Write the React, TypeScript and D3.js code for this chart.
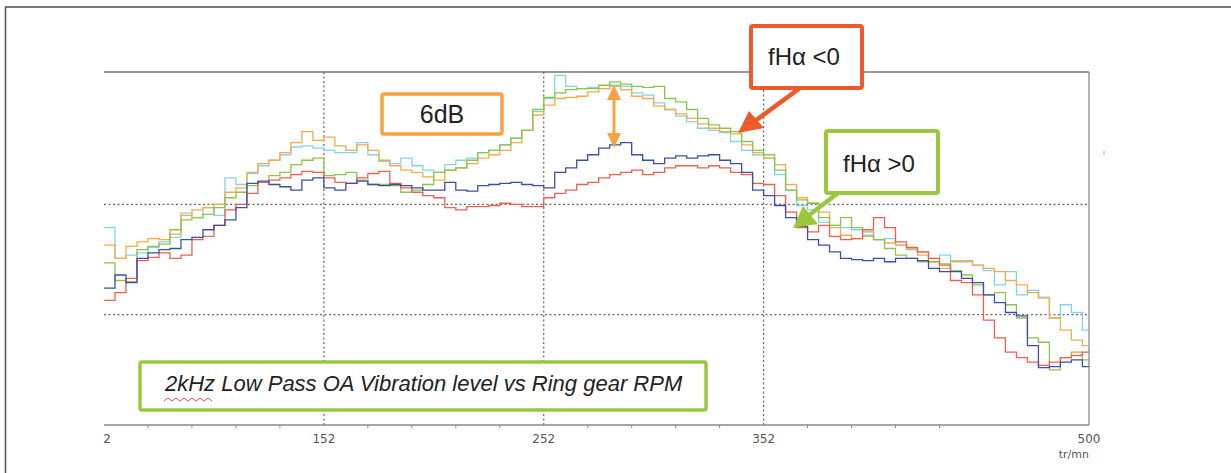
import React from 'react';
import * as d3 from 'd3';

// Sample positions (ring gear RPM), one value every 5 tr/mn
const rpmSamples = d3.range(52, 500, 5);
const rpmEnd = 500;

const xTickValues = [52, 152, 252, 352, 500];
const xTickLabels = ['2', '152', '252', '352', '500'];
const minorTickValues = [72, 92, 112, 132, 172, 192, 212, 232, 272, 292, 312, 332, 372, 392, 412, 432];
const gridXValues = [152, 252, 352];
const gridYValues = [80, 70];

// OA vibration level (dB)
const cyanLevels = [77.9, 75.1, 75.4, 75.6, 76.1, 76.6, 77.0, 79.2, 78.8, 79.7, 79.0, 82.4, 81.8, 82.8, 83.5, 84.0, 84.5, 85.2, 85.3, 85.1, 84.9, 84.7, 84.7, 85.6, 84.5, 83.9, 83.7, 84.2, 83.5, 83.1, 82.9, 83.6, 84.0, 84.2, 84.7, 84.9, 85.4, 86.0, 86.7, 88.4, 89.6, 91.7, 90.7, 90.5, 90.6, 90.5, 90.8, 90.7, 90.1, 89.9, 89.2, 88.6, 88.0, 87.5, 86.9, 86.7, 86.5, 85.7, 84.9, 84.5, 84.2, 82.7, 81.3, 79.9, 79.5, 78.4, 78.1, 77.9, 77.7, 77.2, 76.8, 76.9, 76.3, 76.0, 75.7, 75.1, 75.4, 74.9, 74.8, 74.5, 74.0, 72.7, 73.9, 71.8, 72.2, 71.6, 69.7, 70.9, 70.2, 68.6];
const orangeLevels = [76.3, 75.1, 76.2, 76.6, 76.9, 76.8, 77.3, 79.0, 79.5, 79.7, 80.0, 81.1, 81.5, 82.9, 83.7, 84.0, 84.7, 85.6, 86.6, 85.8, 86.1, 85.3, 84.9, 85.4, 84.9, 84.0, 83.5, 83.1, 82.9, 82.5, 82.2, 83.1, 83.3, 83.7, 84.2, 84.5, 84.9, 85.6, 86.7, 88.1, 89.0, 89.6, 89.7, 89.8, 90.2, 90.5, 90.7, 90.4, 89.8, 89.6, 88.9, 88.6, 88.2, 87.8, 87.3, 86.9, 86.6, 86.4, 85.4, 84.7, 84.2, 83.6, 81.8, 80.6, 80.1, 79.3, 77.9, 77.2, 76.9, 77.1, 76.8, 76.5, 76.3, 75.9, 75.4, 74.8, 74.2, 74.8, 74.9, 74.5, 74.2, 73.9, 73.1, 72.7, 72.0, 71.5, 69.7, 68.6, 67.7, 67.2];
const greenLevels = [74.7, 73.1, 73.0, 75.9, 76.2, 76.4, 77.7, 78.6, 78.8, 79.1, 79.7, 80.6, 81.1, 81.7, 82.0, 82.6, 82.9, 83.6, 84.0, 84.2, 82.6, 82.7, 82.9, 82.2, 81.8, 81.8, 81.7, 81.1, 81.3, 81.8, 82.9, 83.1, 83.3, 84.0, 84.7, 84.9, 85.4, 86.0, 86.7, 88.6, 89.7, 90.1, 90.4, 90.5, 90.5, 90.8, 91.1, 90.9, 90.7, 90.6, 90.7, 89.6, 89.3, 88.6, 87.8, 87.2, 86.9, 86.6, 85.7, 84.9, 84.5, 83.1, 81.3, 80.4, 80.1, 78.8, 78.1, 78.8, 77.9, 77.5, 76.8, 76.0, 75.4, 75.1, 74.8, 74.8, 74.6, 74.0, 73.6, 72.7, 71.8, 72.0, 70.9, 69.7, 67.9, 67.5, 65.0, 66.1, 66.6, 65.9];
const navyLevels = [72.4, 73.6, 72.9, 75.1, 75.6, 75.9, 76.0, 76.8, 77.0, 77.7, 78.1, 78.6, 79.7, 81.9, 82.1, 81.8, 81.6, 81.3, 82.2, 82.4, 81.5, 81.3, 81.9, 82.1, 81.8, 81.7, 81.8, 81.7, 81.5, 81.3, 81.3, 82.0, 81.3, 81.2, 81.7, 81.8, 81.9, 82.0, 81.8, 81.7, 81.5, 82.9, 83.3, 84.0, 84.5, 85.1, 85.4, 85.6, 84.5, 84.0, 83.7, 84.2, 84.4, 84.2, 84.4, 84.5, 84.0, 83.7, 82.9, 81.3, 80.8, 79.9, 78.8, 78.0, 76.8, 76.3, 75.7, 75.1, 75.0, 74.9, 75.1, 74.8, 75.1, 75.1, 74.9, 74.2, 73.9, 73.9, 73.3, 72.9, 71.8, 71.1, 70.2, 69.9, 67.2, 65.2, 65.3, 65.7, 65.9, 65.3];
const redLevels = [71.3, 72.0, 73.3, 74.9, 75.2, 75.6, 75.1, 75.4, 76.8, 77.1, 78.1, 79.5, 80.0, 81.0, 82.0, 82.2, 82.4, 82.7, 83.0, 82.9, 82.4, 82.0, 81.9, 82.4, 82.8, 83.0, 81.9, 81.5, 81.1, 80.8, 80.6, 79.7, 79.5, 79.8, 79.8, 79.9, 80.1, 80.0, 79.8, 79.8, 80.6, 81.0, 81.3, 81.8, 82.0, 82.4, 82.7, 82.9, 83.1, 82.7, 82.9, 83.3, 83.5, 83.5, 83.3, 83.5, 83.3, 82.9, 82.7, 81.9, 81.8, 80.8, 79.3, 77.9, 77.5, 78.1, 77.1, 76.8, 76.9, 77.7, 78.8, 77.9, 76.6, 76.1, 75.7, 75.1, 74.5, 73.1, 72.9, 71.8, 69.5, 67.9, 66.6, 66.1, 65.7, 65.4, 65.7, 66.1, 66.3, 66.6];

const seriesNames = ['cyan', 'orange', 'green', 'red', 'navy'];
const seriesLevels = [cyanLevels, orangeLevels, greenLevels, redLevels, navyLevels];
const seriesColors = ['#84d2ea', '#f7a94c', '#8dc44e', '#ee5f52', '#3d4fa2'];

const W = 1231;
const H = 473;
const plot = { left: 104, right: 1089, top: 72, bottom: 425 };

export default function App() {
  const x = d3.scaleLinear().domain([52, 500]).range([plot.left, plot.right]);
  const y = d3.scaleLinear().domain([60, 92]).range([plot.bottom, plot.top]);

  const line = d3
    .line<[number, number]>()
    .x((d) => x(d[0]))
    .y((d) => y(d[1]))
    .curve(d3.curveStepAfter);

  const paths = seriesLevels.map((vals) => {
    const pts: [number, number][] = rpmSamples.map((r, i) => [r, vals[i]] as [number, number]);
    pts.push([rpmEnd, vals[vals.length - 1]]);
    return line(pts) || '';
  });

  const font = '"Liberation Sans", Arial, sans-serif';
  const tickFont = '"DejaVu Sans", Tahoma, sans-serif';

  // wavy spell-check underline under "2kHz"
  const wave: [number, number][] = d3.range(0, 13).map((i) => [164 + i * 4, i % 2 === 0 ? 401 : 398] as [number, number]);
  const waveLine = d3.line<[number, number]>().x((d) => d[0]).y((d) => d[1]);

  return (
    <svg width={W} height={H} style={{ position: 'absolute', left: 0, top: 0, background: '#fff' }}>
      <rect x={0} y={0} width={W} height={H} fill="#ffffff" />
      {/* outer frame */}
      <rect x={5.5} y={7} width={W + 10} height={H + 10} fill="none" stroke="#5a5a5a" strokeWidth={1.6} />

      <defs>
        <clipPath id="plotClip">
          <rect x={plot.left} y={plot.top} width={plot.right - plot.left} height={plot.bottom - plot.top} />
        </clipPath>
      </defs>

      {/* grid */}
      {gridYValues.map((v) => (
        <line key={'gy' + v} x1={plot.left} x2={plot.right} y1={y(v)} y2={y(v)} stroke="#666" strokeWidth={1.2} strokeDasharray="2,2.5" />
      ))}
      {gridXValues.map((v) => (
        <line key={'gx' + v} x1={x(v)} x2={x(v)} y1={plot.top} y2={plot.bottom} stroke="#666" strokeWidth={1.2} strokeDasharray="2,2.5" />
      ))}

      {/* frame lines */}
      <line x1={plot.left} x2={plot.right} y1={plot.top} y2={plot.top} stroke="#777" strokeWidth={1.3} />
      <line x1={plot.right} x2={plot.right} y1={plot.top} y2={plot.bottom} stroke="#888" strokeWidth={1.3} />
      <line x1={plot.left} x2={plot.right} y1={plot.bottom} y2={plot.bottom} stroke="#888" strokeWidth={1.3} />
      <line x1={1104} x2={1104} y1={151} y2={155} stroke="#aaa" strokeWidth={1} />

      {/* x ticks */}
      {minorTickValues.map((v) => (
        <line key={'mt' + v} x1={x(v)} x2={x(v)} y1={plot.bottom} y2={plot.bottom + 3} stroke="#888" strokeWidth={1} />
      ))}
      {xTickValues.map((v, i) => (
        <text
          key={'tl' + v}
          x={i === 0 ? x(v) + 3 : x(v)}
          y={443}
          textAnchor="middle"
          fontFamily={tickFont}
          fontSize={12}
          fill="#555"
        >
          {xTickLabels[i]}
        </text>
      ))}
      <text x={plot.right} y={458} textAnchor="end" fontFamily={tickFont} fontSize={11} fill="#555">
        tr/mn
      </text>

      {/* series */}
      <g clipPath="url(#plotClip)">
        {paths.map((p, i) => (
          <path key={seriesNames[i]} d={p} fill="none" stroke={seriesColors[i]} strokeWidth={1.3} />
        ))}
      </g>

      {/* 6dB box */}
      <rect x={382} y={94} width={120} height={40} rx={2} fill="#fff" stroke="#f5a243" strokeWidth={3.5} />
      <text x={442} y={123} textAnchor="middle" fontFamily={font} fontSize={25} fill="#222">
        6dB
      </text>

      {/* 6dB double arrow */}
      <line x1={614} x2={614} y1={98} y2={136} stroke="#f5a243" strokeWidth={3} />
      <polygon points="614,85 607,100 621,100" fill="#f5a243" />
      <polygon points="614,148 607,133 621,133" fill="#f5a243" />

      {/* fHa<0 box and arrow */}
      <line x1={800} x2={755} y1={88} y2={121} stroke="#ee5a2b" strokeWidth={4.5} />
      <polygon points="738,133 749,111 764,128" fill="#ee5a2b" />
      <rect x={751} y={26} width={111} height={62} rx={2} fill="#fff" stroke="#ee5a2b" strokeWidth={4} />
      <text x={768} y={65} fontFamily={font} fontSize={24} fill="#222">
        fHα &lt;0
      </text>

      {/* fHa>0 box and arrow */}
      <line x1={838} x2={808} y1={193} y2={216} stroke="#9bc73f" strokeWidth={4.5} />
      <polygon points="793,228 803,206 818,224" fill="#9bc73f" />
      <rect x={826} y={131} width={112} height={62} rx={2} fill="#fff" stroke="#9bc73f" strokeWidth={4} />
      <text x={843} y={172} fontFamily={font} fontSize={24} fill="#222">
        fHα &gt;0
      </text>

      {/* caption */}
      <rect x={140} y={362} width={566} height={48} rx={2} fill="#fff" stroke="#9bc73f" strokeWidth={3.5} />
      <text x={165} y={391} fontFamily={font} fontStyle="italic" fontSize={22} fill="#222">
        2kHz Low Pass OA Vibration level vs Ring gear RPM
      </text>
      <path d={waveLine(wave) || ''} fill="none" stroke="#e05050" strokeWidth={1} />
    </svg>
  );
}
